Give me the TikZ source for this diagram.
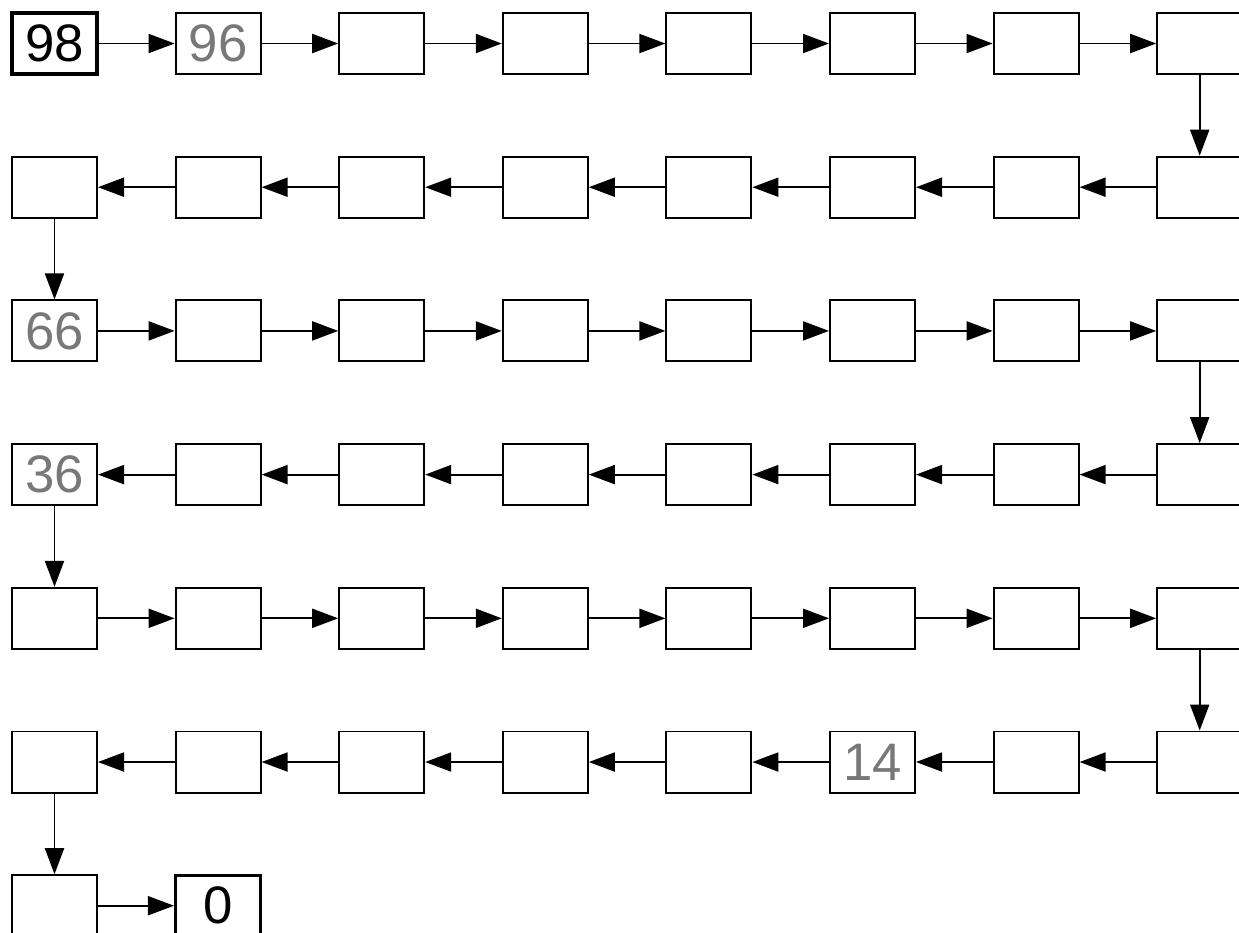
\documentclass[tikz,border=0pt]{standalone}
\usepackage{fontspec}
\setmainfont{Liberation Sans}
\usepackage{tikz}
\usetikzlibrary{arrows.meta}
\definecolor{tracegray}{RGB}{120,120,120}
% numbers printed in the chain
\expandafter\def\csname val0\endcsname{98}
\expandafter\def\csname val1\endcsname{96}
\expandafter\def\csname val16\endcsname{66}
\expandafter\def\csname val31\endcsname{36}
\expandafter\def\csname val42\endcsname{14}
\expandafter\def\csname val49\endcsname{0}

\begin{document}
\begin{tikzpicture}[
  x=0.01cm, y=-0.01cm,
  cell/.style={draw,line width=0.55pt,minimum width=0.85cm,minimum height=0.61cm,
               inner sep=0pt,font=\fontsize{15}{15}\selectfont},
  given/.style={line width=0.9pt},
  trace/.style={text=tracegray},
  s0/.style={given}, s49/.style={given},
  s1/.style={trace}, s16/.style={trace}, s31/.style={trace}, s42/.style={trace},
  arr/.style={line width=0.55pt,-{Triangle[length=0.26cm,width=0.19cm]}},
  ]
  \useasboundingbox (0,0) rectangle (1239,932);
  \clip (0,0) rectangle (1239,932);
  % boxes, snaking row by row
  \foreach \i in {0,...,49}{
    \pgfmathtruncatemacro\r{int(\i/8)}
    \pgfmathtruncatemacro\c{mod(\i,8)}
    \ifodd\r \pgfmathtruncatemacro\c{7-\c}\fi
    \node[cell,s\i/.try] (b\i) at (54.5+163.6*\c, 43.5+143.7*\r)
      {\csname val\i\endcsname};
  }
  % connectors
  \foreach \i [evaluate=\i as \j using int(\i+1)] in {0,...,48}
    \draw[arr] (b\i) -- (b\j);
\end{tikzpicture}
\end{document}
